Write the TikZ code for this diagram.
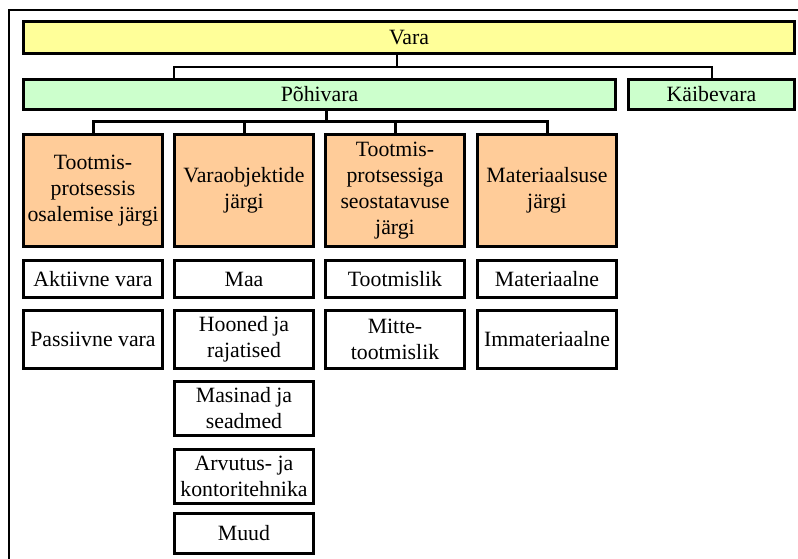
\documentclass[tikz,border=0pt]{standalone}
\usepackage{fontspec}
\setmainfont{Liberation Serif}
\definecolor{varayellow}{HTML}{FFFF99}
\definecolor{varagreen}{HTML}{CCFFCC}
\definecolor{varaorange}{HTML}{FFCC99}
\begin{document}
\begin{tikzpicture}[x=1pt,y=-1pt,
  box/.style={draw=black, line width=3pt, rectangle, inner sep=0pt, align=center,
    font=\fontsize{21.8}{26}\selectfont},
  topbox/.style={box, fill=varayellow, minimum height=32pt},
  groupbox/.style={box, fill=varagreen, minimum height=30pt},
  critbox/.style={box, fill=varaorange, minimum width=139pt, minimum height=112pt},
  leafbox/.style={box, fill=white, minimum width=139pt},
  link/.style={draw=black, line width=3pt},
  thinlink/.style={draw=black, line width=2pt}]
\useasboundingbox (0,0) rectangle (798,559);

% outer frame (open to the right and bottom)
\coordinate (fbl) at (9,559);
\coordinate (ftl) at (9,10);
\coordinate (ftr) at (798,10);
\draw[line width=2pt] (fbl) -- (ftl) -- (ftr);

% top level
\node[topbox, minimum width=771.5pt] (vara) at (409,37.5) {Vara};

% second level
\node[groupbox, minimum width=592pt] (pohi) at (319.5,94.5) {Põhivara};
\node[groupbox, minimum width=166pt] (kaibe) at (711.5,94.5) {Käibevara};

% classification criteria
\node[critbox] (c1) at (93,190.5)  {Tootmis-\\protsessis\\osalemise järgi};
\node[critbox] (c2) at (244,190.5) {Varaobjektide\\järgi};
\node[critbox] (c3) at (395,190.5) {Tootmis-\\protsessiga\\seostatavuse\\järgi};
\node[critbox] (c4) at (547,190.5) {Materiaalsuse\\järgi};

% column 1
\node[leafbox, minimum height=37pt] (a1) at (93,279)    {Aktiivne vara};
\node[leafbox, minimum height=58pt] (a2) at (93,339.5)  {Passiivne vara};
% column 2
\node[leafbox, minimum height=37pt] (b1) at (244,279)   {Maa};
\node[leafbox, minimum height=58pt] (b2) at (244,339.5) {Hooned ja\\rajatised};
\node[leafbox, minimum height=54pt] (b3) at (244,408.5) {Masinad ja\\seadmed};
\node[leafbox, minimum height=54pt] (b4) at (244,476.5) {Arvutus- ja\\kontoritehnika};
\node[leafbox, minimum height=40pt] (b5) at (244,533.5) {Muud};
% column 3
\node[leafbox, minimum height=37pt] (d1) at (395,279)   {Tootmislik};
\node[leafbox, minimum height=58pt] (d2) at (395,339.5) {Mitte-\\tootmislik};
% column 4
\node[leafbox, minimum height=37pt] (e1) at (547,279)   {Materiaalne};
\node[leafbox, minimum height=58pt] (e2) at (547,339.5) {Immateriaalne};

% connectors: Vara -> Põhivara, Käibevara
\coordinate (bus1) at (397,67);
\coordinate (pohitap) at (174,0);
\draw[thinlink] (vara.south -| bus1) -- (bus1);
\draw[thinlink] (pohi.north -| pohitap) |- (bus1) -| (kaibe.north);

% connectors: Põhivara -> criteria
\coordinate (bus2) at (326,122);
\draw[link] (pohi.south -| bus2) -- (bus2);
\draw[link] (c1.north) |- (bus2) -| (c4.north);
\draw[link] (c2.north) -- (c2.north |- bus2);
\draw[link] (c3.north) -- (c3.north |- bus2);
\end{tikzpicture}
\end{document}
